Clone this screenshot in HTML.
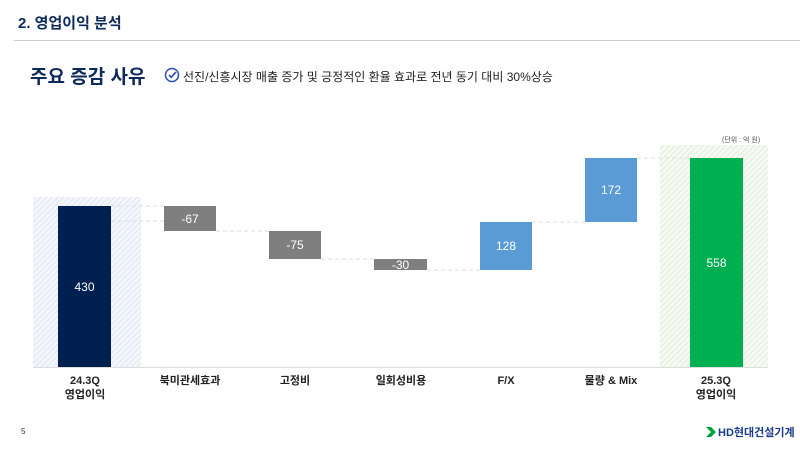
<!DOCTYPE html>
<html><head><meta charset="utf-8"><style>
body{margin:0;width:800px;height:452px;background:#fff;overflow:hidden;font-family:"Liberation Sans","Noto Sans CJK KR",sans-serif;position:relative}
.a{position:absolute;white-space:nowrap}
.bar{position:absolute;color:#fff;font-size:12px;display:flex;align-items:center;justify-content:center}
.lbl{position:absolute;width:100px;text-align:center;font-size:11px;font-weight:bold;color:#222;line-height:14px}
</style></head><body>
<div class="a" style="left:18px;top:12px;font-size:15px;font-weight:bold;color:#0d2a5c">2. 영업이익 분석</div>
<div class="a" style="left:14px;top:40px;width:786px;height:1px;background:#ccc"></div>
<div class="a" style="left:30px;top:62px;font-size:19px;font-weight:bold;color:#0d2a5c">주요 증감 사유</div>
<svg class="a" style="left:164px;top:67px" width="16" height="16"><circle cx="8" cy="8" r="6.5" fill="none" stroke="#2a4db0" stroke-width="1.5"/><path d="M5 8l2.3 2.3L12 5" fill="none" stroke="#2a4db0" stroke-width="1.6"/></svg>
<div class="a" style="left:183px;top:68px;font-size:12px;color:#222">선진/신흥시장 매출 증가 및 긍정적인 환율 효과로 전년 동기 대비 30%상승</div>
<div class="a" style="left:722px;top:135px;font-size:7px;color:#555">(단위 : 억 원)</div>
<svg class="a" style="left:0;top:0" width="800" height="452">
<defs>
<pattern id="hb" width="4" height="4" patternUnits="userSpaceOnUse" patternTransform="rotate(45)"><rect width="4" height="4" fill="#f4f6fb"/><line x1="0" y1="0" x2="0" y2="4" stroke="#d8e0ee" stroke-width="1.5"/></pattern>
<pattern id="hg" width="4" height="4" patternUnits="userSpaceOnUse" patternTransform="rotate(45)"><rect width="4" height="4" fill="#f6faf3"/><line x1="0" y1="0" x2="0" y2="4" stroke="#d9ebcf" stroke-width="1.5"/></pattern>
</defs>
<rect x="33" y="197" width="108" height="170" fill="url(#hb)"/>
<rect x="660" y="145" width="108" height="222" fill="url(#hg)"/>
<g stroke="#ddd" stroke-dasharray="4,3" stroke-width="1">
<line x1="111" y1="206" x2="164" y2="206"/>
<line x1="111" y1="221" x2="164" y2="221"/>
<line x1="216" y1="231" x2="269" y2="231"/>
<line x1="321" y1="259" x2="374" y2="259"/>
<line x1="427" y1="270" x2="480" y2="270"/>
<line x1="532" y1="222" x2="585" y2="222"/>
<line x1="637" y1="158" x2="690" y2="158"/>
</g>
<line x1="33" y1="367.5" x2="768" y2="367.5" stroke="#ddd"/>
</svg>
<div class="bar" style="left:58px;top:206px;width:53px;height:161px;background:#002050">430</div>
<div class="bar" style="left:164px;top:206px;width:52px;height:25px;background:#7f7f7f">-67</div>
<div class="bar" style="left:269px;top:231px;width:52px;height:28px;background:#7f7f7f">-75</div>
<div class="bar" style="left:374px;top:259px;width:53px;height:11px;background:#7f7f7f">-30</div>
<div class="bar" style="left:480px;top:222px;width:52px;height:48px;background:#5b9bd5">128</div>
<div class="bar" style="left:585px;top:158px;width:52px;height:64px;background:#5b9bd5">172</div>
<div class="bar" style="left:690px;top:158px;width:53px;height:209px;background:#00b050">558</div>
<div class="lbl" style="left:35px;top:374px">24.3Q<br>영업이익</div>
<div class="lbl" style="left:140px;top:374px">북미관세효과</div>
<div class="lbl" style="left:245px;top:374px">고정비</div>
<div class="lbl" style="left:351px;top:374px">일회성비용</div>
<div class="lbl" style="left:456px;top:374px">F/X</div>
<div class="lbl" style="left:561px;top:374px">물량 &amp; Mix</div>
<div class="lbl" style="left:666px;top:374px">25.3Q<br>영업이익</div>
<div class="a" style="left:21px;top:427px;font-size:8px;color:#333">5</div>
<svg class="a" style="left:705px;top:426px" width="12" height="12"><path d="M1 1h5l5 5-5 5H1l5-5z" fill="#00a040"/></svg>
<div class="a" style="left:718px;top:424px;font-size:11px;font-weight:bold;color:#1a3a8c">HD현대건설기계</div>
</body></html>
